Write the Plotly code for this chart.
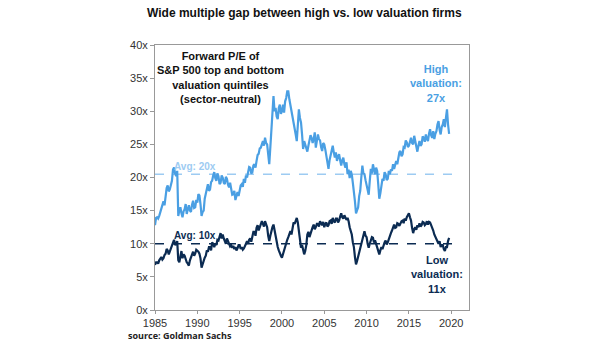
import plotly.graph_objects as go

START_YEAR = 1985
STEP = 0.125  # eight observations per year

high_pe = [
    12.8, 13.9, 14.0, 13.8, 14.2, 14.8, 15.0, 15.6,
    16.4, 15.8, 17.5, 18.4, 18.8, 17.9, 18.2, 19.0,
    19.5, 21.2, 21.5, 20.6, 20.2, 21.0, 14.2, 15.0,
    15.5, 14.6, 14.0, 14.9, 15.2, 16.0, 14.5, 15.2,
    15.8, 15.0, 14.8, 15.9, 16.5, 15.4, 15.5, 16.6,
    16.2, 17.5, 17.3, 16.0, 14.2, 14.8, 15.0, 16.8,
    17.5, 18.6, 19.0, 18.0, 18.2, 19.3, 19.5, 20.3,
    20.8, 19.9, 19.5, 20.6, 20.2, 19.0, 19.2, 20.3,
    20.0, 19.2, 19.0, 20.1, 19.8, 18.9, 18.5, 19.2,
    18.2, 17.4, 17.5, 18.0, 16.6, 17.1, 17.8, 17.2,
    18.2, 18.8, 19.0, 18.6, 19.8, 19.2, 20.3, 20.0,
    20.8, 21.6, 21.5, 20.6, 20.8, 21.8, 22.0, 21.5,
    22.5, 23.4, 23.6, 24.4, 24.5, 25.2, 25.5, 24.8,
    26.0, 25.2, 25.0, 23.5, 22.0, 24.5, 27.5, 29.5,
    32.3, 30.0, 30.5, 29.2, 28.8, 30.5, 31.0, 29.6,
    30.0, 31.0, 29.8, 31.5, 32.0, 33.0, 33.0, 31.8,
    31.0, 29.8, 29.0, 28.2, 27.5, 26.5, 25.5, 27.8,
    30.3, 29.0, 28.3, 26.5, 24.3, 25.5, 25.0, 24.2,
    23.9, 24.8, 25.5, 26.4, 26.0, 25.2, 25.8, 26.8,
    24.5, 25.6, 26.5, 25.8, 25.6, 24.6, 24.0, 25.2,
    25.0, 24.2, 23.0, 22.2, 21.3, 22.6, 23.5, 24.0,
    24.8, 23.8, 23.0, 23.8, 22.5, 23.2, 23.5, 22.6,
    21.8, 22.6, 23.0, 22.0, 21.5, 22.3, 20.5, 21.2,
    19.9, 21.0, 20.5, 19.2, 18.0, 16.4, 14.6, 15.2,
    15.5, 17.2, 18.0, 20.0, 21.8, 20.6, 20.5, 19.6,
    19.0, 18.2, 17.4, 19.5, 21.3, 20.6, 22.0, 21.2,
    20.5, 21.5, 21.0, 19.0, 16.8, 17.6, 18.5, 19.8,
    19.5, 20.8, 20.5, 19.6, 19.8, 21.0, 20.5, 21.2,
    21.0, 22.0, 21.3, 22.2, 22.5, 22.0, 23.0, 23.8,
    24.0, 23.2, 23.5, 24.6, 24.5, 25.6, 25.3, 24.6,
    24.8, 25.6, 26.0, 25.2, 25.0, 26.3, 25.5, 24.6,
    23.9, 24.8, 25.5, 24.8, 25.0, 26.2, 26.0, 25.4,
    26.5, 25.8, 25.5, 26.6, 27.3, 26.4, 26.0, 27.0,
    25.8, 26.6, 27.0, 28.0, 28.5, 27.2, 26.5, 27.6,
    28.0, 28.8, 27.6, 29.0, 30.3, 28.0, 26.6,
]

low_pe = [
    6.8, 7.2, 7.2, 7.0, 7.5, 7.9, 8.0, 7.6,
    7.8, 8.3, 8.5, 9.2, 9.0, 8.4, 8.8, 9.4,
    9.5, 10.2, 10.6, 9.8, 10.0, 10.4, 7.5, 7.2,
    8.5, 8.9, 7.8, 8.4, 8.2, 7.6, 7.2, 7.0,
    6.7, 7.5, 8.0, 8.6, 8.8, 8.2, 8.5, 9.1,
    9.0, 8.8, 8.5, 7.8, 6.4, 7.0, 7.5, 7.9,
    8.2, 9.0, 8.8, 9.5, 9.5, 9.0, 10.2, 10.0,
    9.5, 10.0, 9.8, 10.6, 10.5, 11.2, 11.6, 10.8,
    11.4, 10.8, 10.5, 10.0, 10.8, 10.4, 10.2, 9.6,
    9.8, 9.4, 9.7, 9.2, 9.5, 9.0, 9.3, 9.8,
    9.8, 9.2, 9.5, 9.1, 9.3, 9.8, 10.0, 10.4,
    10.0, 10.6, 10.8, 10.3, 11.2, 11.8, 11.8, 11.2,
    12.4, 12.8, 12.0, 12.6, 12.8, 13.4, 13.0, 12.6,
    13.4, 13.0, 12.5, 11.2, 10.4, 11.2, 12.0, 12.5,
    12.9, 12.0, 11.0, 10.2, 9.5, 9.0, 8.5, 8.2,
    7.9, 8.5, 9.0, 9.6, 10.0, 10.6, 11.0, 11.5,
    11.9, 11.4, 12.5, 13.2, 13.0, 13.6, 13.9, 13.2,
    12.0, 10.6, 9.4, 9.8, 9.0, 8.4, 8.9, 9.8,
    11.4, 11.8, 11.0, 11.6, 12.0, 12.5, 12.9, 12.2,
    12.5, 13.0, 13.0, 12.6, 13.4, 13.0, 12.8, 13.3,
    12.5, 13.0, 13.2, 12.6, 12.8, 13.4, 13.5, 13.0,
    13.9, 13.4, 13.2, 13.8, 13.8, 13.2, 13.5, 14.1,
    14.6, 14.0, 13.8, 14.3, 14.0, 13.6, 13.9, 13.4,
    12.5, 12.0, 11.4, 10.2, 9.5, 8.0, 6.9, 7.4,
    8.0, 8.8, 9.5, 10.0, 10.5, 11.4, 11.9, 11.2,
    11.0, 10.0, 9.4, 10.0, 10.5, 11.0, 10.9, 10.2,
    10.5, 10.0, 9.5, 8.8, 8.4, 9.0, 9.5, 9.2,
    9.8, 10.2, 10.5, 9.9, 10.2, 10.8, 11.0, 11.6,
    12.0, 12.6, 12.9, 12.4, 12.5, 13.1, 13.0, 12.7,
    13.2, 13.4, 13.5, 13.1, 13.8, 13.5, 14.0, 14.3,
    14.6, 14.0, 13.5, 12.4, 11.6, 12.2, 12.5, 12.1,
    12.8, 12.5, 13.1, 12.6, 12.8, 13.3, 13.2, 12.8,
    13.0, 13.4, 12.9, 13.3, 13.2, 12.8, 12.5, 12.0,
    11.4, 11.0, 10.5, 10.2, 10.0, 10.4, 9.5, 9.8,
    9.8, 9.2, 8.9, 9.5, 9.5, 10.4, 10.9,
]

high_avg = 20.5
low_avg = 10.0
x_ticks = [1985, 1990, 1995, 2000, 2005, 2010, 2015, 2020]
y_ticks = [0, 5, 10, 15, 20, 25, 30, 35, 40]
y_tick_labels = [f"{v}x" for v in y_ticks]

x_high = [START_YEAR + i * STEP for i in range(len(high_pe))]
x_low = [START_YEAR + i * STEP for i in range(len(low_pe))]

HIGH_C = "#4A9FE3"
HIGH_AVG_C = "#9DCBF2"
LOW_C = "#0B2B52"
FONT = "Liberation Sans, Arial, sans-serif"

fig = go.Figure()
fig.add_trace(go.Scatter(x=[1985, 2020.1], y=[high_avg, high_avg], mode="lines",
                         line=dict(color=HIGH_AVG_C, width=1.5, dash="dash"),
                         showlegend=False))
fig.add_trace(go.Scatter(x=[1985, 2020.1], y=[low_avg, low_avg], mode="lines",
                         line=dict(color=LOW_C, width=1.5, dash="dash"),
                         showlegend=False))
fig.add_trace(go.Scatter(x=x_high, y=high_pe, mode="lines",
                         line=dict(color=HIGH_C, width=2.2), showlegend=False))
fig.add_trace(go.Scatter(x=x_low, y=low_pe, mode="lines",
                         line=dict(color=LOW_C, width=2.2), showlegend=False))

fig.update_layout(
    width=605, height=341,
    margin=dict(l=155, r=136, t=45, b=28),
    paper_bgcolor="white", plot_bgcolor="white",
    font=dict(family=FONT, color="#333333", size=11),
    title=dict(text="<b>Wide multiple gap between high vs. low valuation firms</b>",
               x=0.503, xanchor="center", y=0.963, yanchor="middle",
               font=dict(size=12, color="#111111", family=FONT)),
    xaxis=dict(range=[1985, 2022.1], tickvals=x_ticks, ticks="outside",
               ticklen=3, tickcolor="#999999", showline=True, linecolor="#999999",
               linewidth=1, mirror=True, showgrid=False, zeroline=False,
               tickfont=dict(size=11, color="#333333")),
    yaxis=dict(range=[0, 40], tickvals=y_ticks, ticktext=y_tick_labels,
               ticks="outside", ticklen=4, tickcolor="#999999", showline=True,
               linecolor="#999999", linewidth=1, mirror=True, showgrid=False,
               zeroline=False, tickfont=dict(size=11, color="#333333")),
)

annos = [
    dict(x=1992.7, y=35.1,
         text="<b>Forward P/E of<br>S&P 500 top and bottom<br>valuation quintiles<br>(sector-neutral)</b>",
         font=dict(size=11, color="#111111")),
    dict(x=2018.2, y=34.2, text="<b>High<br>valuation:<br>27x</b>",
         font=dict(size=11, color=HIGH_C)),
    dict(x=2018.3, y=5.4, text="<b>Low<br>valuation:<br>11x</b>",
         font=dict(size=11, color=LOW_C)),
    dict(x=1989.7, y=21.7, text="<b>Avg: 20x</b>", font=dict(size=10, color=HIGH_AVG_C)),
    dict(x=1989.7, y=11.3, text="<b>Avg: 10x</b>", font=dict(size=10, color=LOW_C)),
]
for a in annos:
    fig.add_annotation(xref="x", yref="y", showarrow=False, align="center",
                       xanchor="center", yanchor="middle", **a)

fig.add_annotation(xref="paper", yref="paper", x=-0.092, y=-0.098, xanchor="left",
                   yanchor="middle", showarrow=False,
                   text="<b>source: Goldman Sachs</b>",
                   font=dict(size=9, color="#222222", family="Open Sans, sans-serif"))

fig.write_html("out.html")
